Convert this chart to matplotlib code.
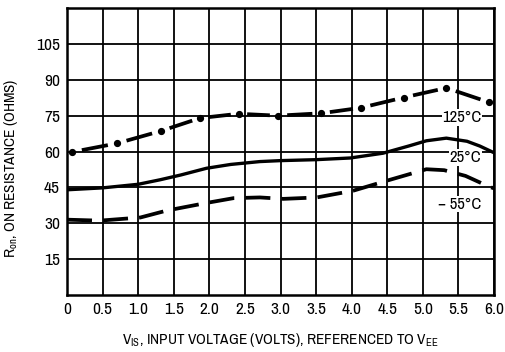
import matplotlib
matplotlib.use('Agg')
import matplotlib.pyplot as plt
import numpy as np

FONT = 'Archivo Narrow'
plt.rcParams['font.family'] = [FONT, 'DejaVu Sans']
plt.rcParams['font.weight'] = 'bold'
plt.rcParams['mathtext.fontset'] = 'custom'
plt.rcParams['mathtext.rm'] = FONT + ':bold'
plt.rcParams['mathtext.it'] = FONT + ':bold'
plt.rcParams['mathtext.bf'] = FONT + ':bold'
plt.rcParams['lines.scale_dashes'] = False

# ---- data ----
x_ticks = [0, 0.5, 1.0, 1.5, 2.0, 2.5, 3.0, 3.5, 4.0, 4.5, 5.0, 5.5, 6.0]
x_tick_labels = ['0', '0.5', '1.0', '1.5', '2.0', '2.5', '3.0', '3.5', '4.0', '4.5', '5.0', '5.5', '6.0']
y_ticks = [15, 30, 45, 60, 75, 90, 105]
y_tick_labels = ['15', '30', '45', '60', '75', '90', '105']

# 125 C curve (dot positions)
hot_v = [0.07, 0.70, 1.32, 1.87, 2.41, 2.96, 3.57, 4.13, 4.73, 5.33, 5.93]
hot_r = [59.8, 63.4, 68.6, 74.0, 75.8, 75.0, 76.0, 78.3, 82.6, 86.6, 80.6]

# 25 C curve
room_v = [0.0, 0.5, 1.0, 1.31, 1.6, 1.96, 2.3, 2.71, 3.0, 3.5, 3.98, 4.44, 4.8, 5.05, 5.33, 5.62, 5.8, 6.0]
room_r = [44.0, 44.8, 46.3, 48.2, 50.2, 53.0, 54.6, 55.8, 56.2, 56.6, 57.3, 59.3, 62.3, 64.5, 65.6, 64.3, 62.3, 59.5]

# -55 C curve
cold_v = [0.0, 0.46, 1.03, 1.40, 1.96, 2.34, 2.71, 3.04, 3.51, 4.02, 4.54, 5.05, 5.30, 5.60, 5.94, 6.0]
cold_r = [31.5, 31.1, 32.4, 35.3, 38.5, 40.5, 40.8, 40.2, 40.8, 43.6, 48.2, 52.6, 52.2, 49.8, 45.2, 44.6]

labels = ['125°C', '25°C', '\u2212 55°C']
label_v = [5.55, 5.6, 5.52]
label_r = [74.2, 57.5, 38.0]

# ---- figure ----
fig = plt.figure(figsize=(5.06, 3.52), dpi=100)
ax = fig.add_axes([0.1324, 0.162, 0.8439, 0.815])
ax.set_xlim(0, 6.0)
ax.set_ylim(0, 120)

ax.set_xticks(x_ticks)
ax.set_xticklabels(x_tick_labels)
ax.set_yticks(y_ticks)
ax.set_yticklabels(y_tick_labels)
ax.tick_params(length=0, labelsize=12.5, pad=5)
for s in ax.spines.values():
    s.set_linewidth(1.8)
    s.set_color('black')

# grid lines drawn as ordinary lines, just below the curves
for v in x_ticks:
    ax.plot([v, v], [0, 120], color='black', lw=1.3, zorder=2.8)
for v in y_ticks:
    ax.plot([0, 6.0], [v, v], color='black', lw=1.3, zorder=2.8)

lw = 2.4
# 125 C: dashes between dots
hv = np.array(hot_v)
hr = np.array(hot_r)
for i in range(len(hv) - 1):
    t0, t1 = 0.22, 0.80
    ax.plot([hv[i] + t0 * (hv[i + 1] - hv[i]), hv[i] + t1 * (hv[i + 1] - hv[i])],
            [hr[i] + t0 * (hr[i + 1] - hr[i]), hr[i] + t1 * (hr[i + 1] - hr[i])],
            color='black', lw=lw + 0.3, solid_capstyle='butt', zorder=3)
ax.plot(hv, hr, 'o', color='black', markersize=4.2, zorder=3)

# 25 C solid
ax.plot(room_v, room_r, color='black', lw=lw, zorder=3)

# -55 C dashed
ax.plot(cold_v, cold_r, color='black', lw=lw + 0.3, dashes=(18, 8), zorder=3)

for t, xv, yv in zip(labels, label_v, label_r):
    ax.text(xv, yv, t, ha='center', va='center', fontsize=12, zorder=4,
            bbox=dict(facecolor='white', edgecolor='none', pad=0.6))

ax.set_ylabel('R$_{\\mathrm{on}}$, ON RESISTANCE (OHMS)', fontsize=11)
ax.yaxis.set_label_coords(-0.11, 0.44)
ax.set_xlabel('V$_{\\mathrm{IS}}$, INPUT VOLTAGE (VOLTS), REFERENCED TO V$_{\\mathrm{EE}}$',
              fontsize=11, labelpad=10)

fig.savefig('out.png', dpi=100)
